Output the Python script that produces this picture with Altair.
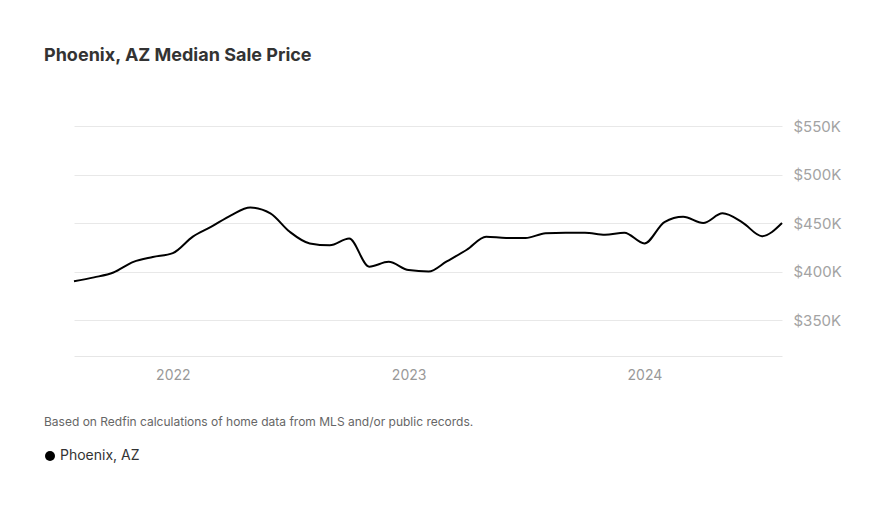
import altair as alt
import pandas as pd

months = pd.date_range("2021-08-01", "2024-08-01", freq="MS").strftime("%Y-%m-%d").tolist()
prices = [
    390000, 394000, 399000, 410000, 415000, 419000, 436000, 446000, 458000, 466000,
    460000, 441000, 429000, 427000, 434000, 405000, 410000, 401500, 400000, 410500,
    422500, 436000, 434500, 434500, 439500, 440000, 440000, 438000, 440000, 429000,
    451000, 456500, 450000, 460000, 450500, 436500, 450000,
]
series = ["Phoenix, AZ"] * len(months)
y_ticks = [350000, 400000, 450000, 500000, 550000]
footnote = "Based on Redfin calculations of home data from MLS and/or public records."

df = pd.DataFrame({"date": months, "price": prices, "region": series})

FONT = "Inter"
W, H = 708, 230

line = alt.Chart(df).mark_line(interpolate="monotone", strokeWidth=2).encode(
    x=alt.X(
        "date:T",
        scale=alt.Scale(domain=["2021-08-01", "2024-08-01"], nice=False),
        axis=alt.Axis(
            title=None, format="%Y", tickCount="year", grid=False, ticks=False,
            domain=True, domainColor="#e6e6e6", domainWidth=1,
            labelColor="#999999", labelFontSize=14, labelFont=FONT, labelPadding=12,
        ),
    ),
    y=alt.Y(
        "price:Q",
        scale=alt.Scale(domain=[313000, 550000], nice=False, zero=False),
        axis=alt.Axis(
            title=None, orient="right", values=y_ticks, ticks=False, domain=False,
            gridColor="#e8e8e8", labelColor="#a3a3a3", labelFontSize=15, labelFont=FONT,
            labelPadding=11,
            labelExpr="'$' + format(datum.value / 1000, 'd') + 'K'",
        ),
    ),
    color=alt.Color(
        "region:N",
        scale=alt.Scale(range=["#000000"]),
        legend=alt.Legend(
            title=None, orient="none", legendX=-31, legendY=323, symbolType="circle",
            symbolSize=100, symbolFillColor="#000000", symbolStrokeWidth=0, padding=0,
            labelFont=FONT, labelFontSize=14, labelColor="#333333", labelOffset=3,
        ),
    ),
)

note = alt.Chart(pd.DataFrame({"t": [footnote]})).mark_text(
    align="left", baseline="middle", font=FONT, fontSize=12, color="#666666"
).encode(text="t:N", x=alt.value(-30), y=alt.value(296))

chart = (
    alt.layer(line, note)
    .properties(
        width=W,
        height=H,
        padding={"left": 43, "top": 47, "right": 10, "bottom": 10},
        title=alt.TitleParams(
            "Phoenix, AZ Median Sale Price", anchor="start", frame="group", dx=-30,
            font=FONT, fontSize=18, fontWeight="bold", color="#333333", offset=54,
        ),
    )
    .configure(background="white")
    .configure_view(stroke=None, strokeWidth=0)
)

chart.save("out.html", embed_options={"renderer": "svg", "actions": False})
